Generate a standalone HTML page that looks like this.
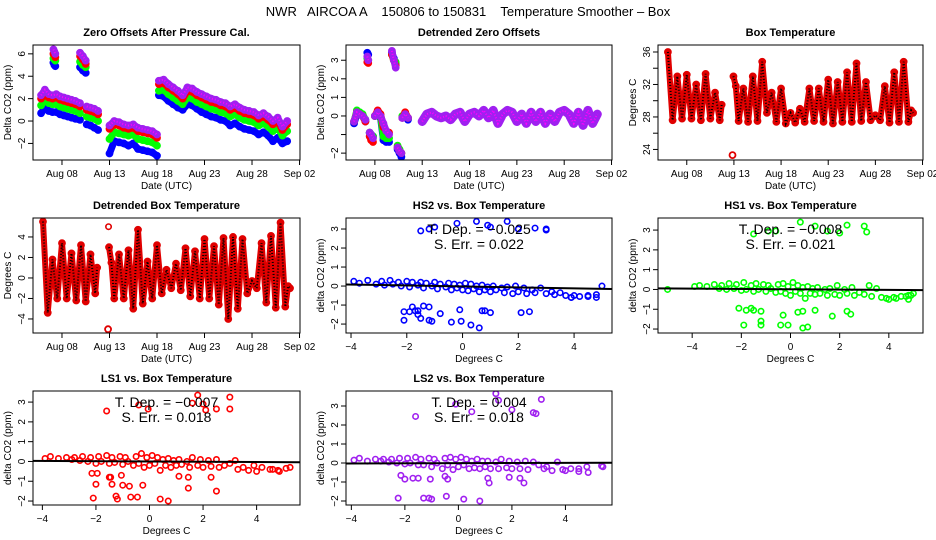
<!DOCTYPE html>
<html><head><meta charset="utf-8"><title>NWR AIRCOA A Temperature Smoother</title>
<style>
html,body{margin:0;padding:0;background:#fff;}
svg{display:block;font-family:"Liberation Sans",Arial,sans-serif;}
</style></head>
<body>
<svg id="chart" width="936" height="540" viewBox="0 0 936 540" xmlns="http://www.w3.org/2000/svg">
<rect x="0" y="0" width="936" height="540" fill="#fff"/>
<text x="468" y="16" text-anchor="middle" font-size="13" xml:space="preserve">NWR   AIRCOA A    150806 to 150831    Temperature Smoother – Box</text>
</svg>
<script>
// ---------- DATA ----------
const zoTime = [5.8,6.2,6.6,7.0,7.4,7.8,8.2,8.6,9.0,9.4,9.9,null,7.1,7.2,7.3,null,9.9,10.2,10.5,null,10.6,11.0,11.4,11.8,null,13.0,13.5,14.0,14.5,15.0,15.5,16.0,16.5,17.0,17.5,18.0,null,18.2,18.7,19.2,19.7,20.2,20.7,21.2,21.7,22.2,22.7,23.2,23.7,24.2,24.7,25.2,25.7,26.2,26.7,27.2,27.7,28.2,28.7,29.2,29.7,30.2,30.7,31.2,31.7];
const zoLS2 = [2.3,2.8,2.4,2.3,2.4,2.2,2.1,2.0,1.9,1.8,1.6,null,6.4,6.2,6.0,null,6.1,5.8,5.4,null,1.3,1.2,1.1,0.9,null,-0.4,0.0,-0.1,-0.3,-0.4,-0.3,-0.6,-0.7,-0.8,-0.9,-1.2,null,3.6,3.7,3.3,3.0,2.7,2.3,3.0,2.9,2.6,2.4,2.2,2.0,1.9,1.7,1.6,1.3,1.5,1.2,1.0,0.9,0.8,0.5,0.7,0.4,0.0,0.3,-0.5,0.0];
const zoLS1 = [2.0,2.4,2.1,2.0,2.1,1.9,1.8,1.7,1.6,1.5,1.3,null,6.0,5.9,5.7,null,5.8,5.5,5.1,null,1.0,0.9,0.8,0.6,null,-0.7,-0.3,-0.4,-0.6,-0.7,-0.6,-0.9,-1.0,-1.1,-1.2,-1.5,null,3.3,3.4,3.0,2.7,2.4,2.0,2.7,2.6,2.3,2.1,1.9,1.7,1.6,1.4,1.3,1.0,1.2,0.9,0.7,0.6,0.5,0.2,0.4,0.1,-0.3,0.0,-0.8,-0.3];
const zoHS1 = [1.4,1.9,1.6,1.5,1.5,1.3,1.2,1.1,1.0,0.9,0.7,null,5.6,5.5,5.4,null,5.3,5.0,4.8,null,0.4,0.3,0.2,0.0,null,-1.6,-1.0,-1.1,-1.2,-1.3,-1.2,-1.6,-1.7,-1.8,-1.9,-2.2,null,2.7,2.8,2.4,2.1,1.8,1.5,2.1,2.0,1.7,1.5,1.3,1.1,1.0,0.8,0.7,0.4,0.6,0.3,0.1,0.0,-0.1,-0.4,-0.2,-0.5,-0.9,-0.6,-1.3,-0.9];
const zoHS2 = [0.7,1.2,0.9,0.8,0.8,0.6,0.5,0.4,0.3,0.2,0.1,null,5.2,5.0,4.9,null,4.8,4.5,4.3,null,-0.3,-0.4,-0.6,-0.8,null,-2.9,-1.8,-1.9,-2.0,-2.2,-2.0,-2.5,-2.6,-2.7,-2.8,-3.1,null,2.3,2.2,1.8,1.5,1.2,1.0,1.5,1.4,1.1,0.8,0.6,0.4,0.3,0.1,0.0,-0.4,-0.2,-0.5,-0.7,-0.8,-0.9,-1.2,-1.0,-1.3,-1.8,-1.5,-2.0,-1.8];

const dzEarlyTime = [5.8,6.1,6.4,6.7,7.0,null,7.2,7.3,null,7.45,7.6,7.8,null,8.0,8.3,8.6,8.9,9.2,9.5,null,9.8,10.0,10.2,null,10.4,10.6,10.8,null,10.9,11.2,11.5];
const dzEarlyHS2 = [-0.4,0.1,0.1,0.0,-0.3,null,3.4,3.3,null,-0.9,-1.0,-1.1,null,0.0,0.1,-0.1,-1.3,-1.4,-1.4,null,3.4,3.1,2.8,null,-1.8,-2.0,-2.2,null,-0.1,0.0,-0.2];
const dzEarlyHS1 = [-0.3,0.3,0.2,0.1,-0.2,null,3.1,3.0,null,-0.9,-1.0,-1.1,null,0.0,0.2,0.0,-1.1,-1.2,-1.2,null,3.3,3.0,2.9,null,-1.6,-1.8,-2.0,null,0.0,0.1,-0.1];
const dzEarlyLS1 = [-0.3,0.2,0.1,0.0,-0.3,null,2.9,2.85,null,-1.1,-1.3,-1.4,null,0.0,0.3,0.1,-0.6,-0.8,-0.9,null,3.3,3.0,2.7,null,-1.7,-1.9,-2.0,null,-0.1,0.2,-0.1];
const dzEarlyLS2 = [-0.3,0.2,0.1,0.0,-0.2,null,3.2,3.0,null,-0.9,-1.0,-1.2,null,0.0,0.2,0.0,-0.4,-0.8,-1.0,null,3.5,3.0,2.6,null,-1.7,-1.9,-2.0,null,-0.1,0.1,-0.1];
const dzLateTime = [13.0,13.5,14.0,14.5,15.0,15.5,16.0,16.5,17.0,17.5,18.0,18.5,19.0,19.5,20.0,20.5,21.0,21.5,22.0,22.5,23.0,23.5,24.0,24.5,25.0,25.5,26.0,26.5,27.0,27.5,28.0,28.5,29.0,29.5,30.0,30.5,31.0,31.5];
const dzLateVal = [-0.3,0.1,0.2,0.0,-0.1,0.0,-0.2,0.1,0.2,-0.3,0.1,0.2,0.0,0.3,-0.1,0.3,-0.4,0.1,0.3,0.2,-0.3,0.1,-0.4,0.2,-0.3,0.2,-0.4,0.1,-0.3,0.2,0.3,0.1,-0.4,0.2,-0.5,0.3,-0.4,0.1];

const btTime = [6.0,6.5,7.0,7.5,8.0,8.5,9.0,9.5,10.0,10.5,11.0,11.5,11.7,null,12.85,null,12.95,13.2,13.5,14.0,14.5,15.0,15.5,16.0,16.5,17.0,17.5,18.0,18.5,19.0,19.5,20.0,20.5,21.0,21.5,22.0,22.5,23.0,23.5,24.0,24.5,25.0,25.5,26.0,26.5,27.0,27.5,28.0,28.5,29.0,29.5,30.0,30.5,31.0,31.5,31.8,32.0];
const btVal = [36,27.6,33,27.8,33.2,27.8,32,27.6,33.3,27.8,31,27.6,29.5,null,23.3,null,33,31.8,27.5,31.5,27.4,33.0,27.5,34.8,28.5,31.0,27.4,31.5,27.2,28.5,27.3,29.0,27.4,31.5,27.5,31.5,27.4,32.6,27.2,32.3,27.4,33.5,27.4,34.6,27.5,32.3,27.6,28.2,27.6,31.8,27.3,33.5,27.4,34.8,27.4,28.8,28.5];
const dbVal = [5.5,-3.4,1.8,-2,3.4,-2,2.4,-2.2,3.2,-2.3,2.3,-1.5,1.0,null,-5.0,null,3.0,1.5,-2.0,2.3,-2.0,2.7,-3.0,4.7,-2.5,1.6,-2.0,3.2,-1.5,0.8,-1.0,1.4,-1.2,2.9,-1.8,2.6,-2.0,3.8,-2.0,3.1,-2.6,3.9,-4.0,4.0,-3.0,3.8,-1.5,-0.3,-1.0,3.4,-2.4,4.1,-2.9,5.4,-2.8,-0.8,-1.0];
const dbOutTime = [12.9];
const dbOutVal = [5.0];

const bandTemp = [-3.9,-3.7,-3.4,-3.1,-2.9,-2.8,-2.6,-2.5,-2.3,-2.2,-2.0,-1.9,-1.8,-1.6,-1.5,-1.4,-1.3,-1.1,-1.0,-0.9,-0.8,-0.6,-0.5,-0.4,-0.3,-0.2,-0.1,0.0,0.1,0.2,0.3,0.4,0.5,0.6,0.7,0.8,0.9,1.0,1.1,1.2,1.4,1.5,1.6,1.8,1.9,2.0,2.2,2.3,2.5,2.6,2.8,3.0,3.2,3.3,3.5,3.7,3.9,4.2,4.5,4.8];
const hs2Band = [0.25,0.15,0.3,0.1,0.25,0.05,0.3,0.1,0.2,0.0,0.25,-0.05,0.2,0.05,0.2,-0.1,0.15,0.0,0.2,-0.15,0.1,-0.05,0.15,-0.2,0.1,-0.1,0.05,-0.2,0.15,-0.25,0.1,-0.15,0.0,-0.3,0.05,-0.2,-0.05,-0.3,0.0,-0.2,-0.1,-0.35,-0.05,-0.4,0.0,-0.3,-0.1,-0.4,-0.2,-0.35,-0.1,-0.4,-0.3,-0.45,-0.35,-0.5,-0.6,-0.55,-0.5,-0.45];
const hs1Band = [0.15,0.2,0.15,0.25,0.05,0.2,0.0,0.3,0.05,0.25,-0.05,0.35,0.0,0.2,-0.1,0.3,0.0,0.25,-0.1,0.2,0.05,-0.15,0.25,-0.1,0.3,-0.2,0.15,-0.3,0.35,-0.1,0.2,-0.2,0.1,-0.45,0.15,-0.2,0.05,-0.25,0.1,-0.2,0.0,-0.3,0.05,-0.25,0.2,-0.3,0.0,-0.2,0.1,-0.3,-0.15,-0.25,0.2,-0.35,0.05,-0.4,-0.45,-0.4,-0.35,-0.3];
const ls1Band = [0.15,0.25,0.15,0.2,0.1,0.2,0.05,0.25,0.0,0.2,-0.1,0.25,0.0,0.3,-0.1,0.2,-0.05,0.25,-0.15,0.2,0.0,-0.2,0.25,-0.1,0.4,-0.3,0.2,-0.2,0.3,-0.1,0.2,-0.45,0.1,-0.2,0.15,-0.3,0.05,-0.2,0.1,-0.15,0.0,-0.3,0.2,-0.2,0.1,-0.3,0.05,-0.25,0.1,-0.3,-0.2,-0.1,0.05,-0.4,-0.3,-0.45,-0.2,-0.3,-0.4,-0.45];
const ls2Band = [0.15,0.25,0.1,0.2,0.1,0.2,0.05,0.2,0.0,0.25,-0.05,0.25,0.0,0.3,-0.1,0.2,-0.1,0.25,-0.2,0.2,0.0,-0.3,0.25,-0.1,0.3,-0.35,0.2,-0.2,0.3,-0.1,0.2,-0.3,0.1,-0.25,0.2,-0.3,0.1,-0.2,0.1,-0.3,0.05,-0.3,0.2,-0.25,0.1,-0.3,0.05,-0.3,0.1,-0.35,0.05,-0.1,-0.3,-0.2,-0.4,0.05,-0.35,-0.3,-0.45,-0.2];

const hs2OutX = [-1.5,-1.2,-1.0,-0.2,0.5,0.9,1.0,1.6,2.0,2.6,3.0,3.0,-2.1,-2.1,-1.9,-1.8,-1.7,-1.6,-1.6,-1.5,-1.4,-1.2,-1.2,-1.1,-0.8,-0.4,-0.1,-0.05,0.3,0.6,0.7,0.8,1.0,2.1,2.4,5.0,3.9,4.0,4.5,4.8];
const hs2OutY = [2.9,3.0,3.1,3.3,3.4,3.2,3.1,3.4,3.0,3.05,3.0,2.95,-1.35,-1.8,-1.35,-1.1,-1.3,-1.5,-1.3,-1.7,-1.05,-1.1,-1.8,-1.85,-1.45,-1.9,-1.25,-1.85,-2.05,-2.2,-1.3,-1.3,-1.4,-1.4,-1.35,0.0,-0.6,-0.5,-0.55,-0.6];
const hs1OutX = [-5,-1.5,-0.9,-0.6,0.4,1.0,1.5,2.0,2.3,3.0,3.1,-2.1,-1.9,-1.8,-1.6,-1.5,-1.2,-1.2,-1.2,-0.4,-0.3,-0.1,0.3,0.5,0.5,0.7,1.0,1.7,2.3,2.45,4.0,4.3,4.7,4.8,4.9,5.0];
const hs1OutY = [0,2.8,2.95,2.95,3.4,3.2,2.95,2.85,3.25,3.2,2.9,-0.95,-1.8,-1.05,-0.95,-1.05,-1.6,-1.8,-1.1,-1.8,-1.3,-1.8,-1.15,-1.95,-1.1,-1.9,-1.05,-1.35,-1.1,-1.25,-0.5,-0.45,-0.35,-0.5,-0.3,-0.2];
const ls1OutX = [-1.6,-0.4,-0.05,1.6,1.8,2.0,2.1,2.5,3.0,3.0,-2.15,-2.0,-1.95,-1.5,-1.4,-1.45,-1.05,-1.0,-0.75,-0.25,-2.1,-1.25,-1.2,-0.7,-0.45,0.4,0.7,1.1,1.45,1.45,2.3,2.5,4.6,4.85,5.1,5.25,4.0];
const ls1OutY = [2.55,2.85,2.65,2.95,3.35,2.9,2.6,2.65,3.25,2.65,-0.6,-1.15,-0.6,-0.8,-1.15,-0.8,-0.7,-1.2,-1.25,-1.2,-1.85,-1.75,-1.9,-1.8,-1.8,-1.9,-2.0,-0.75,-0.8,-1.35,-0.8,-1.5,-0.4,-0.5,-0.35,-0.3,-0.5];
const ls2OutX = [-1.6,-0.1,0.5,1.4,1.5,2.0,2.8,2.9,3.1,-2.15,-2.0,-1.7,-1.5,-1.05,-0.5,-0.4,-2.25,-1.3,-1.1,-1.0,-0.45,0.2,0.8,1.1,1.15,1.9,2.3,2.45,4.0,4.5,4.85,5.35,5.4];
const ls2OutY = [2.45,3.1,2.7,3.65,3.3,2.8,2.65,2.6,3.35,-0.65,-0.85,-0.8,-0.8,-0.85,-0.7,-0.85,-1.85,-1.85,-1.85,-1.9,-1.75,-1.9,-2.0,-0.8,-1.05,-0.75,-0.8,-1.05,-0.4,-0.3,-0.5,-0.15,-0.2];

const fitSlope = [-0.025,-0.008,-0.007,0.004];
const fitIntercept = [-0.02,0.01,0.0,-0.01];
const tDepLabels = ["T. Dep. =  −0.025","T. Dep. =  −0.008","T. Dep. =  −0.007","T. Dep. =  0.004"];
const sErrLabels = ["S. Err. =  0.022","S. Err. =  0.021","S. Err. =  0.018","S. Err. =  0.018"];

const dateTicks = [8,13,18,23,28,33];
const dateTickLabels = ["Aug 08","Aug 13","Aug 18","Aug 23","Aug 28","Sep 02"];
const tempTicks = [-4,-2,0,2,4];
const tempTickLabels = ["−4","−2","0","2","4"];
const co2Ticks = [-2,-1,0,1,2,3];
const co2TickLabels = ["−2","−1","0","1","2","3"];

// ---------- RENDER ----------
const NS = "http://www.w3.org/2000/svg";
const svg = document.getElementById('chart');
function mk(tag, attrs, name, parent) {
  const e = document.createElementNS(NS, tag);
  for (const k in attrs) e.setAttribute(k, attrs[k]);
  
  
  (parent || svg).appendChild(e);
  return e;
}
function txt(x, y, s, size, name, parent, opts) {
  opts = opts || {};
  const a = {x: x, y: y, 'font-size': size, 'text-anchor': opts.anchor || 'middle'};
  if (opts.bold) a['font-weight'] = 'bold';
  if (opts.rot) a.transform = 'rotate(-90 ' + x + ' ' + y + ')';
  const t = mk('text', a, name, parent);
  t.setAttribute('xml:space', 'preserve');
  t.textContent = s;
  return t;
}

function panel(c) {
  const g = mk('g', {}, c.name);
  const sx = v => c.l + (v - c.xlim[0]) / (c.xlim[1] - c.xlim[0]) * (c.r - c.l);
  const sy = v => c.b - (v - c.ylim[0]) / (c.ylim[1] - c.ylim[0]) * (c.b - c.t);
  const cid = 'clip-' + c.name;
  const cp = mk('clipPath', {id: cid}, c.name + '-clip', g);
  mk('rect', {x: c.l, y: c.t, width: c.r - c.l, height: c.b - c.t}, c.name + '-clip-rect', cp);
  const plot = mk('g', {'clip-path': 'url(#' + cid + ')'}, c.name + '-plot-area', g);
  txt((c.l + c.r) / 2, c.t - 9, c.title, 11, c.name + '-title', g, {bold: true});
  const xa = mk('g', {}, c.name + '-x-axis', g);
  c.xticks.forEach((v, i) => {
    const x = sx(v);
    mk('line', {x1: x, x2: x, y1: c.b, y2: c.b + 5, stroke: '#000', 'stroke-width': 1}, 'x-tick', xa);
    txt(x, c.b + 17, c.xlabels[i], 10, 'x-tick-label', xa);
  });
  txt((c.l + c.r) / 2, c.b + 29, c.xlab, 10, c.name + '-x-axis-title', g);
  const ya = mk('g', {}, c.name + '-y-axis', g);
  c.yticks.forEach((v, i) => {
    const y = sy(v);
    mk('line', {x1: c.l - 5, x2: c.l, y1: y, y2: y, stroke: '#000', 'stroke-width': 1}, 'y-tick', ya);
    if (c.ylabels[i] !== '') txt(c.l - 8, y, c.ylabels[i], 10, 'y-tick-label', ya, {rot: true});
  });
  txt(c.l - 22, (c.t + c.b) / 2, c.ylab, 10, c.name + '-y-axis-title', g, {rot: true});
  mk('rect', {x: c.l, y: c.t, width: c.r - c.l, height: c.b - c.t, fill: 'none', stroke: '#000', 'stroke-width': 1}, c.name + '-frame', g);
  return {g: plot, sx: sx, sy: sy, c: c};
}

function series(p, times, vals, color, name, w, dot) {
  let d = '', pen = false;
  const grp = mk('g', {}, name, p.g);
  for (let i = 0; i < times.length; i++) {
    if (times[i] === null || vals[i] === null) { pen = false; continue; }
    const x = p.sx(times[i]), y = p.sy(vals[i]);
    d += (pen ? 'L' : 'M') + x.toFixed(1) + ' ' + y.toFixed(1);
    pen = true;
    mk('circle', {cx: x, cy: y, r: 3, fill: 'none', stroke: color, 'stroke-width': 1.8}, name + '-point', grp);
  }
  mk('path', {d: d, fill: 'none', stroke: color, 'stroke-width': w, 'stroke-linejoin': 'round', 'stroke-linecap': 'round'}, name + '-line', grp);
  if (dot) mk('path', {d: d, fill: 'none', stroke: dot, 'stroke-width': 2, 'stroke-dasharray': '1 2'}, name + '-texture', grp);
}
function scatter(p, xs, ys, color, name) {
  const grp = mk('g', {}, name, p.g);
  for (let i = 0; i < xs.length; i++) {
    mk('circle', {cx: p.sx(xs[i]), cy: p.sy(ys[i]), r: 2.7, fill: 'none', stroke: color, 'stroke-width': 1.6}, name + '-point', grp);
  }
}
function fitLine(p, k) {
  const x0 = p.c.xlim[0], x1 = p.c.xlim[1];
  mk('line', {x1: p.sx(x0), y1: p.sy(fitIntercept[k] + fitSlope[k] * x0), x2: p.sx(x1), y2: p.sy(fitIntercept[k] + fitSlope[k] * x1), stroke: '#000', 'stroke-width': 2}, 'regression-line', p.g);
  const cx = (p.c.l + p.c.r) / 2;
  txt(cx, p.c.t + 16, tDepLabels[k], 14, 'temperature-dependence-label', p.g.parentNode);
  txt(cx, p.c.t + 31, sErrLabels[k], 14, 'standard-error-label', p.g.parentNode);
}

const PURPLE = '#a020f0', MAG = '#ff00ff';
const p1 = panel({name: 'zero-offsets-panel', l: 33, r: 300, t: 45, b: 160, xlim: [4.95, 33.05], ylim: [-3.48, 6.79],
  title: 'Zero Offsets After Pressure Cal.', xlab: 'Date (UTC)', ylab: 'Delta CO2 (ppm)',
  xticks: dateTicks, xlabels: dateTickLabels, yticks: [-2,0,2,4,6], ylabels: ['−2','0','2','4','6']});
series(p1, zoTime, zoHS2, '#0000ff', 'hs2-offsets', 7);
series(p1, zoTime, zoHS1, '#00ff00', 'hs1-offsets', 7);
series(p1, zoTime, zoLS1, '#ff0000', 'ls1-offsets', 7);
series(p1, zoTime, zoLS2, PURPLE, 'ls2-offsets', 7, MAG);

const p2 = panel({name: 'detrended-offsets-panel', l: 346, r: 612, t: 45, b: 160, xlim: [4.95, 33.05], ylim: [-2.37, 3.82],
  title: 'Detrended Zero Offsets', xlab: 'Date (UTC)', ylab: 'Delta CO2 (ppm)',
  xticks: dateTicks, xlabels: dateTickLabels, yticks: co2Ticks, ylabels: ['−2','','0','1','2','3']});
series(p2, dzEarlyTime, dzEarlyHS2, '#0000ff', 'hs2-detrended', 7);
series(p2, dzEarlyTime, dzEarlyHS1, '#00ff00', 'hs1-detrended', 7);
series(p2, dzEarlyTime, dzEarlyLS1, '#ff0000', 'ls1-detrended', 7);
series(p2, dzEarlyTime, dzEarlyLS2, PURPLE, 'ls2-detrended', 7, MAG);
series(p2, dzLateTime, dzLateVal, PURPLE, 'ls2-detrended-late', 9, MAG);

const p3 = panel({name: 'box-temperature-panel', l: 658, r: 923, t: 45, b: 160, xlim: [4.95, 33.05], ylim: [22.7, 36.86],
  title: 'Box Temperature', xlab: 'Date (UTC)', ylab: 'Degrees C',
  xticks: dateTicks, xlabels: dateTickLabels, yticks: [24,26,28,30,32,34,36], ylabels: ['24','','28','','32','','36']});
series(p3, btTime, btVal, '#e00000', 'box-temperature', 6, '#000');

const p4 = panel({name: 'detrended-box-temperature-panel', l: 33, r: 300, t: 218, b: 333, xlim: [4.95, 33.05], ylim: [-5.37, 5.85],
  title: 'Detrended Box Temperature', xlab: 'Date (UTC)', ylab: 'Degrees C',
  xticks: dateTicks, xlabels: dateTickLabels, yticks: tempTicks, ylabels: tempTickLabels});
series(p4, btTime, dbVal, '#e00000', 'detrended-box-temperature', 6, '#000');
scatter(p4, dbOutTime, dbOutVal, '#e00000', 'detrended-temperature-outlier');

const p5 = panel({name: 'hs2-vs-temperature-panel', l: 346, r: 612, t: 218, b: 333, xlim: [-4.18, 5.36], ylim: [-2.47, 3.58],
  title: 'HS2 vs. Box Temperature', xlab: 'Degrees C', ylab: 'delta CO2 (ppm)',
  xticks: tempTicks, xlabels: tempTickLabels, yticks: co2Ticks, ylabels: co2TickLabels});
scatter(p5, bandTemp, hs2Band, '#0000ff', 'hs2-band');
scatter(p5, hs2OutX, hs2OutY, '#0000ff', 'hs2-outliers');
fitLine(p5, 0);

const p6 = panel({name: 'hs1-vs-temperature-panel', l: 658, r: 923, t: 218, b: 333, xlim: [-5.39, 5.39], ylim: [-2.2, 3.61],
  title: 'HS1 vs. Box Temperature', xlab: 'Degrees C', ylab: 'delta CO2 (ppm)',
  xticks: tempTicks, xlabels: tempTickLabels, yticks: co2Ticks, ylabels: co2TickLabels});
scatter(p6, bandTemp, hs1Band, '#00ff00', 'hs1-band');
scatter(p6, hs1OutX, hs1OutY, '#00ff00', 'hs1-outliers');
fitLine(p6, 1);

const p7 = panel({name: 'ls1-vs-temperature-panel', l: 33, r: 300, t: 391, b: 505, xlim: [-4.35, 5.62], ylim: [-2.2, 3.56],
  title: 'LS1 vs. Box Temperature', xlab: 'Degrees C', ylab: 'delta CO2 (ppm)',
  xticks: tempTicks, xlabels: tempTickLabels, yticks: co2Ticks, ylabels: co2TickLabels});
scatter(p7, bandTemp, ls1Band, '#ff0000', 'ls1-band');
scatter(p7, ls1OutX, ls1OutY, '#ff0000', 'ls1-outliers');
fitLine(p7, 2);

const p8 = panel({name: 'ls2-vs-temperature-panel', l: 346, r: 612, t: 391, b: 505, xlim: [-4.2, 5.74], ylim: [-2.21, 3.79],
  title: 'LS2 vs. Box Temperature', xlab: 'Degrees C', ylab: 'delta CO2 (ppm)',
  xticks: tempTicks, xlabels: tempTickLabels, yticks: co2Ticks, ylabels: co2TickLabels});
scatter(p8, bandTemp, ls2Band, PURPLE, 'ls2-band');
scatter(p8, ls2OutX, ls2OutY, PURPLE, 'ls2-outliers');
fitLine(p8, 3);
</script>
</body></html>
